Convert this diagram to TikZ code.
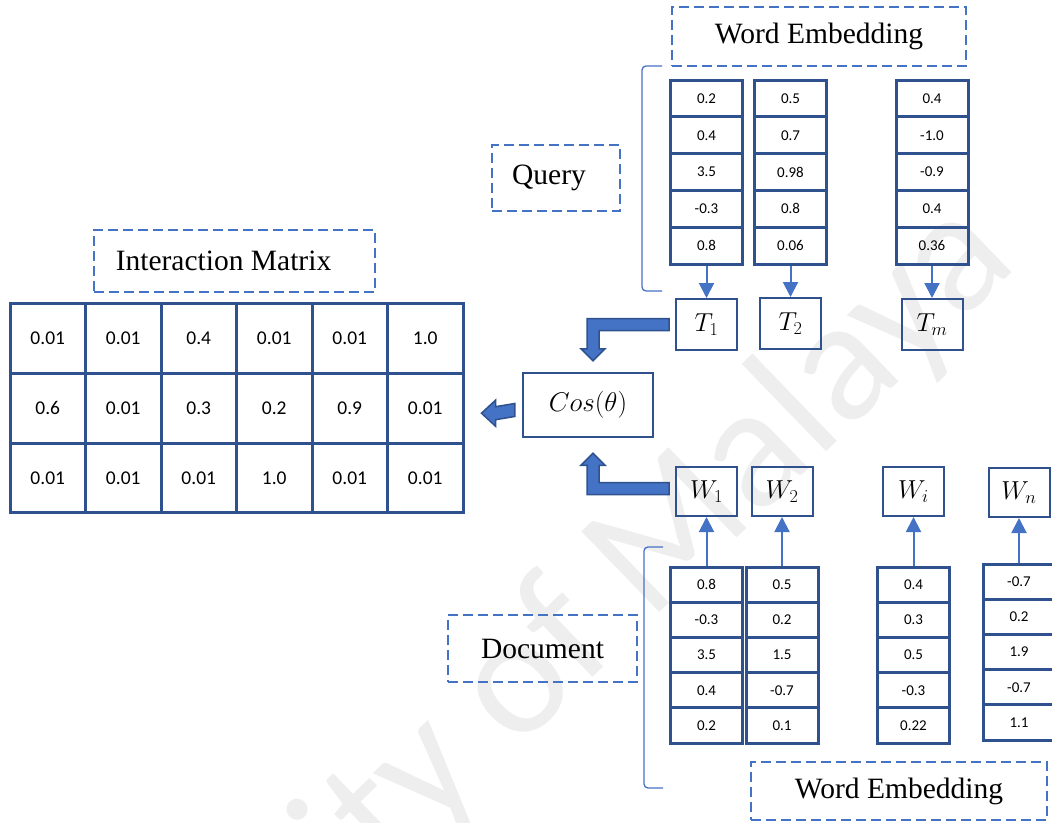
\documentclass[tikz,border=0pt]{standalone}
\usepackage{fix-cm}
\usepackage{fontspec}
\setmainfont{Liberation Serif}
\newfontfamily\numfont{Carlito}
\usetikzlibrary{arrows.meta,calc}

\definecolor{cellblue}{HTML}{2F528F}
\definecolor{linkblue}{HTML}{4472C4}
\definecolor{markgray}{HTML}{EEEEEE}

\tikzset{
  vcell/.style={draw=cellblue, line width=3pt, minimum width=72pt, inner sep=0pt,
    font={\numfont\fontsize{15}{15}\selectfont}},
  mcell/.style={draw=cellblue, line width=3pt, minimum width=75.5pt, minimum height=69.8pt,
    inner sep=0pt, font={\numfont\fontsize{19.5}{19.5}\selectfont}},
  tokbox/.style={draw=cellblue, line width=2pt, minimum width=61pt, minimum height=50pt,
    inner sep=0pt, font=\fontsize{26}{26}\selectfont},
  tagbox/.style={draw=linkblue, line width=2.5pt, dash pattern=on 10pt off 5pt,
    inner sep=0pt, font=\fontsize{29.5}{30}\selectfont},
  feed/.style={draw=linkblue, line width=2pt, -{Triangle[length=15pt,width=15pt]}},
  blockarrow/.style={fill=linkblue, draw=cellblue, line width=1.5pt, line join=miter},
  bracket/.style={draw=linkblue, line width=1.3pt, rounded corners=4pt}
}

% one embedding vector: name, centre x, top y, row height, values
\newcommand\vecolumn[5]{%
  \foreach \v [count=\k] in {#5} {
    \node[vcell, minimum height=#4pt] (#1-\k) at ({#2},{#3+(\k-0.5)*#4}) {\v};
  }%
}

\begin{document}
\begin{tikzpicture}[x=1pt,y=-1pt]
\useasboundingbox (0,0) rectangle (1052,822);
\clip (0,0) rectangle (1052,822);

% watermark
\node[rotate=44, anchor=base, text=markgray, inner sep=0pt,
  font={\numfont\fontsize{175}{175}\selectfont}] (mark) at (497,770) {University of Malaya};

% interaction matrix
\foreach \row [count=\r] in {{0.01,0.01,0.4,0.01,0.01,1.0},
                             {0.6,0.01,0.3,0.2,0.9,0.01},
                             {0.01,0.01,0.01,1.0,0.01,0.01}} {
  \foreach \v [count=\c] in \row {
    \node[mcell] (m-\r-\c) at ({10+75.5*(\c-0.5)},{303.5+69.8*(\r-0.5)}) {\v};
  }
}
\node[tagbox, minimum width=281pt, minimum height=62pt] (imat) at (234.5,261)
  {Interaction Matrix\hspace*{22pt}};

% query side
\node[tagbox, minimum width=294pt, minimum height=59pt] (wetop) at (819,36.5) {Word Embedding};
\node[tagbox, minimum width=128pt, minimum height=66pt] (query) at (556,178) {Query\hspace*{14pt}};
\draw[bracket] (662,66) -- (642,66) -- (642,291) -- (662,291);

\vecolumn{q1}{706.5}{80}{36.8}{0.2,0.4,3.5,-0.3,0.8}
\vecolumn{q2}{790.5}{80}{36.8}{0.5,0.7,0.98,0.8,0.06}
\vecolumn{q3}{932}{80}{36.8}{0.4,-1.0,-0.9,0.4,0.36}

\node[tokbox, minimum height=51pt] (T1) at (706.5,324.5) {$T_1$};
\node[tokbox, minimum height=51pt] (T2) at (790.5,323.5) {$T_2$};
\node[tokbox, minimum height=51pt] (Tm) at (932,324.5) {$T_m$};

\draw[feed] (q1-5.south) -- (q1-5.south |- T1.north);
\draw[feed] (q2-5.south) -- (q2-5.south |- T2.north);
\draw[feed] (q3-5.south) -- (q3-5.south |- Tm.north);

% similarity
\node[draw=cellblue, line width=2.5pt, minimum width=130pt, minimum height=64pt,
  font=\fontsize{27}{27}\selectfont] (cos) at (588,405) {$Cos(\theta)$};

% document side
\node[tokbox, minimum height=49pt] (W1) at (706.5,491.5) {$W_1$};
\node[tokbox, minimum height=49pt] (W2) at (782,491.5) {$W_2$};
\node[tokbox, minimum height=49pt] (Wi) at (913.5,491.5) {$W_i$};
\node[tokbox, minimum height=49pt] (Wn) at (1019,492.5) {$W_n$};

\vecolumn{d1}{706.5}{567}{35.2}{0.8,-0.3,3.5,0.4,0.2}
\vecolumn{d2}{782}{567}{35.2}{0.5,0.2,1.5,-0.7,0.1}
\vecolumn{d3}{913.5}{567}{35.2}{0.4,0.3,0.5,-0.3,0.22}
\vecolumn{d4}{1019}{564}{35.2}{-0.7,0.2,1.9,-0.7,1.1}

\draw[feed] (d1-1.north) -- (d1-1.north |- W1.south);
\draw[feed] (d2-1.north) -- (d2-1.north |- W2.south);
\draw[feed] (d3-1.north) -- (d3-1.north |- Wi.south);
\draw[feed] (d4-1.north) -- (d4-1.north |- Wn.south);

\draw[bracket] (663,547) -- (644,547) -- (644,788) -- (663,788);
\node[tagbox, minimum width=189pt, minimum height=67pt] (doc) at (542.5,648.5) {Document};
\node[tagbox, minimum width=296pt, minimum height=58pt] (webot) at (899,791) {Word Embedding};

% block arrows: query token -> cosine, document token -> cosine, cosine -> matrix
\coordinate (ua) at ($(T1.west)+(-6,0)$);
\coordinate (ut) at ($(cos.north)+(5,-11)$);
\draw[blockarrow] ($(ua)+(0,-6)$) -- ($(ut |- ua)+(-6,-6)$) -- ($(ut)+(-6,-12)$)
  -- ($(ut)+(-12,-12)$) -- (ut) -- ($(ut)+(12,-12)$) -- ($(ut)+(6,-12)$)
  -- ($(ut |- ua)+(6,6)$) -- ($(ua)+(0,6)$) -- cycle;

\coordinate (la) at ($(W1.west)+(-6,-3)$);
\coordinate (lt) at ($(cos.south)+(5,15)$);
\draw[blockarrow] ($(la)+(0,6)$) -- ($(lt |- la)+(-6,6)$) -- ($(lt)+(-6,12)$)
  -- ($(lt)+(-12,12)$) -- (lt) -- ($(lt)+(12,12)$) -- ($(lt)+(6,12)$)
  -- ($(lt |- la)+(6,-6)$) -- ($(la)+(0,-6)$) -- cycle;

\coordinate (ms) at ($(cos.west)+(-7,5)$);
\coordinate (mt) at ($(m-2-6.east)+(17,5)$);
\draw[blockarrow] (mt) -- ($(mt)+(14,-13)$) -- ($(mt)+(14,-6.5)$) -- ($(ms)+(0,-6.5)$)
  -- ($(ms)+(0,6.5)$) -- ($(mt)+(14,6.5)$) -- ($(mt)+(14,13)$) -- cycle;
\end{tikzpicture}
\end{document}
